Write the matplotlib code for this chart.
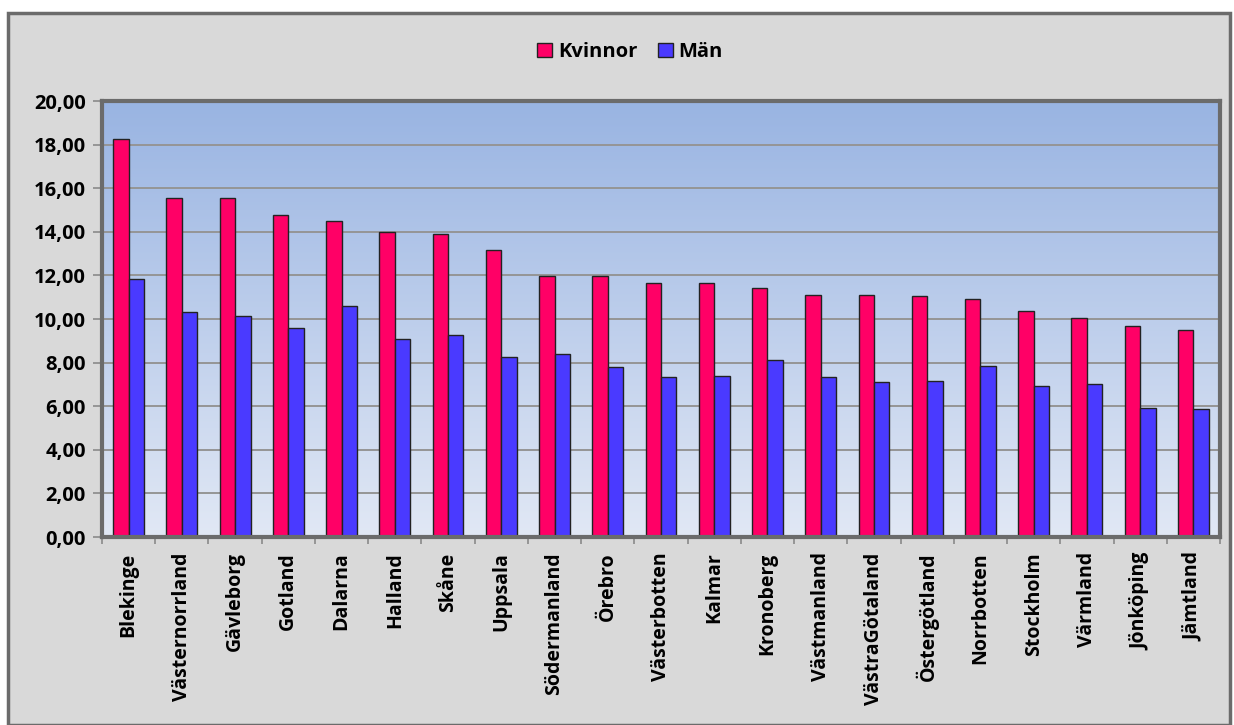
import numpy as np
import matplotlib
matplotlib.use("Agg")
import matplotlib.pyplot as plt
from matplotlib.patches import Rectangle
from matplotlib.ticker import FixedLocator, FuncFormatter

plt.rcParams['font.family'] = ['Open Sans', 'DejaVu Sans']

lan = ["Blekinge", "Västernorrland", "Gävleborg", "Gotland", "Dalarna", "Halland",
       "Skåne", "Uppsala", "Södermanland", "Örebro", "Västerbotten", "Kalmar",
       "Kronoberg", "Västmanland", "VästraGötaland", "Östergötland", "Norrbotten",
       "Stockholm", "Värmland", "Jönköping", "Jämtland"]
kvinnor = [18.26, 15.55, 15.55, 14.77, 14.50, 13.99, 13.90, 13.17, 11.97, 11.97, 11.65,
           11.65, 11.42, 11.10, 11.10, 11.06, 10.92, 10.37, 10.05, 9.68, 9.48]
man = [11.83, 10.32, 10.14, 9.59, 10.60, 9.08, 9.27, 8.26, 8.39, 7.80, 7.34,
       7.39, 8.12, 7.34, 7.11, 7.16, 7.84, 6.93, 7.02, 5.92, 5.86]

W, H = 1234, 725
fig = plt.figure(figsize=(W / 100, H / 100), dpi=100, facecolor="white")
fig.patches.append(Rectangle((8 / W, 0), (1222 / W), (H - 13) / H, transform=fig.transFigure,
                             facecolor="#d9d9d9", edgecolor="#6b6b6b", lw=2.5, zorder=-10))

ax = fig.add_axes([102 / W, (H - 537) / H, (1220 - 102) / W, (537 - 101) / H])
n = len(lan)
x = np.arange(n)
bw = 0.29

# gradient plot area
grad = np.linspace(0, 1, 256).reshape(-1, 1)
top = np.array([0x99, 0xb4, 0xe2]) / 255
bot = np.array([0xe1, 0xe8, 0xf5]) / 255
img = top[None, None, :] * (1 - grad[:, :, None]) + bot[None, None, :] * grad[:, :, None]
ax.imshow(img, extent=[-0.5, n - 0.5, 0, 20], aspect="auto", origin="upper", zorder=0)

for yv in range(2, 20, 2):
    ax.axhline(yv, color="#959595", lw=1.4, zorder=1)

ax.bar(x - bw / 2, kvinnor, bw, color="#ff0066", edgecolor="#222222", lw=1.0, zorder=3, label="Kvinnor")
ax.bar(x + bw / 2, man, bw, color="#4a3aff", edgecolor="#222222", lw=1.0, zorder=3, label="Män")

ax.set_xlim(-0.5, n - 0.5)
ax.set_ylim(0, 20)
ax.set_yticks(np.arange(0, 21, 2))
ax.yaxis.set_major_formatter(FuncFormatter(lambda v, p: f"{v:.2f}".replace(".", ",")))
ax.set_xticks(x)
ax.set_xticklabels(lan, rotation=90, fontsize=14, fontweight="bold")
ax.tick_params(axis="x", which="major", length=0, pad=11)
ax.xaxis.set_minor_locator(FixedLocator(np.arange(-0.5, n, 1)))
ax.tick_params(axis="x", which="minor", length=5, color="#8a8a8a", width=1.2)
ax.tick_params(axis="y", length=6.5, color="#8a8a8a", width=1.2, labelsize=14.5, pad=5)
for lab in ax.get_yticklabels():
    lab.set_fontweight("bold")
for s in ax.spines.values():
    s.set_color("#6b6b6b")
    s.set_linewidth(3)
    s.set_zorder(5)

fig.legend(loc="center", bbox_to_anchor=(630 / W, (H - 52) / H), ncol=2, frameon=False,
           prop={"size": 14.5, "weight": "bold"}, handlelength=0.75, handleheight=0.75,
           handletextpad=0.3, columnspacing=1.0)

fig.savefig("out.png", dpi=100, facecolor="white")
